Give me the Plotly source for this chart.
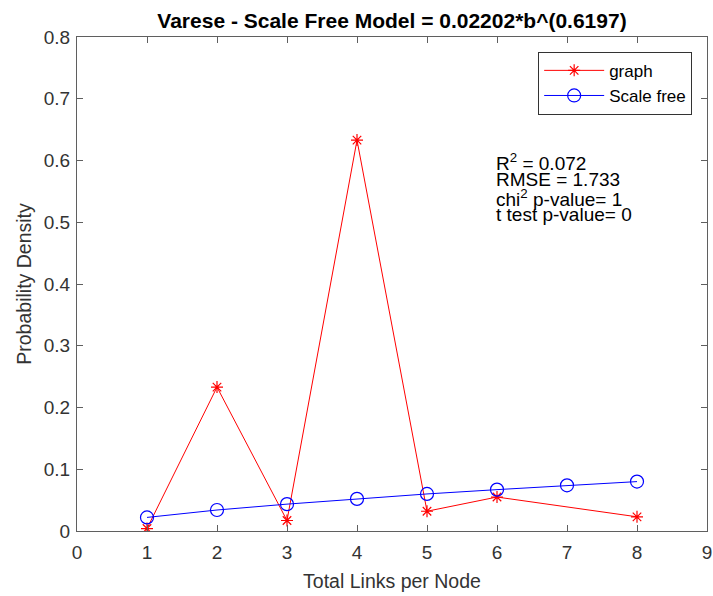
import plotly.graph_objects as go

# Observed degree distribution (no nodes with 7 links)
graph_links = [1, 2, 3, 4, 5, 6, 8]
graph_density = [0.004, 0.233, 0.017, 0.633, 0.032, 0.055, 0.023]

# Fitted scale-free model values
model_links = [1, 2, 3, 4, 5, 6, 7, 8]
model_density = [0.022, 0.034, 0.0435, 0.052, 0.060, 0.067, 0.074, 0.080]

x_ticks = [0, 1, 2, 3, 4, 5, 6, 7, 8, 9]
y_ticks = [0, 0.1, 0.2, 0.3, 0.4, 0.5, 0.6, 0.7, 0.8]

title_text = "Varese - Scale Free Model = 0.02202*b^(0.6197)"
stats_lines = ["R<sup>2</sup> = 0.072", "RMSE = 1.733",
               "chi<sup>2</sup> p-value= 1", "t test p-value= 0"]
stats_y = [0.597, 0.569, 0.540, 0.512]

FONT = "Liberation Sans, Arial, sans-serif"
AXIS_COLOR = "#5f5f5f"
LABEL_COLOR = "#333333"

fig = go.Figure()
fig.add_trace(go.Scatter(
    x=graph_links, y=graph_density, name="graph", mode="lines+markers",
    line=dict(color="#ff0000", width=1),
    marker=dict(symbol="asterisk-open", size=10, color="#ff0000",
                line=dict(color="#ff0000", width=1.2)),
))
fig.add_trace(go.Scatter(
    x=model_links, y=model_density, name="Scale free", mode="lines+markers",
    line=dict(color="#0000ff", width=1),
    marker=dict(symbol="circle-open", size=13, color="#0000ff",
                line=dict(color="#0000ff", width=1.2)),
))

axis_common = dict(
    showgrid=False, zeroline=False, showline=True, linecolor=AXIS_COLOR,
    linewidth=1.3, mirror="ticks", ticks="inside", ticklen=6,
    tickcolor=AXIS_COLOR, automargin=False,
    tickfont=dict(family=FONT, size=19, color=LABEL_COLOR),
)

fig.update_xaxes(range=[0, 9], tickvals=x_ticks, ticktext=[str(v) for v in x_ticks],
                 ticklabelstandoff=4,
                 title=dict(text="Total Links per Node", standoff=12,
                            font=dict(family=FONT, size=19.5, color=LABEL_COLOR)),
                 **axis_common)
fig.update_yaxes(range=[0, 0.8], tickvals=y_ticks,
                 ticktext=["0" if v == 0 else f"{v:.1f}" for v in y_ticks],
                 ticklabelstandoff=2,
                 title=dict(text="Probability Density", standoff=6,
                            font=dict(family=FONT, size=19.5, color=LABEL_COLOR)),
                 **axis_common)

# Goodness-of-fit summary, one line per annotation for tight spacing
for line, yv in zip(stats_lines, stats_y):
    fig.add_annotation(
        x=6, y=yv, xref="x", yref="y", xanchor="left", yanchor="middle",
        text=line, showarrow=False, align="left", xshift=-3,
        font=dict(family=FONT, size=19, color="#000000"),
    )

fig.update_layout(
    width=713, height=596,
    margin=dict(l=77, r=6, t=37, b=65),
    paper_bgcolor="white", plot_bgcolor="white",
    title=dict(text=f"<b>{title_text}</b>", xref="paper", x=0.5, xanchor="center",
               yref="container", y=0.966, yanchor="middle",
               font=dict(family=FONT, size=21, color="#000000")),
    legend=dict(x=0.732, y=0.97, xanchor="left", yanchor="top",
                bordercolor="#333333", borderwidth=1, bgcolor="white",
                font=dict(family=FONT, size=17, color="#000000"),
                tracegroupgap=0, itemwidth=60),
    showlegend=True,
)

fig.write_html("out.html")
